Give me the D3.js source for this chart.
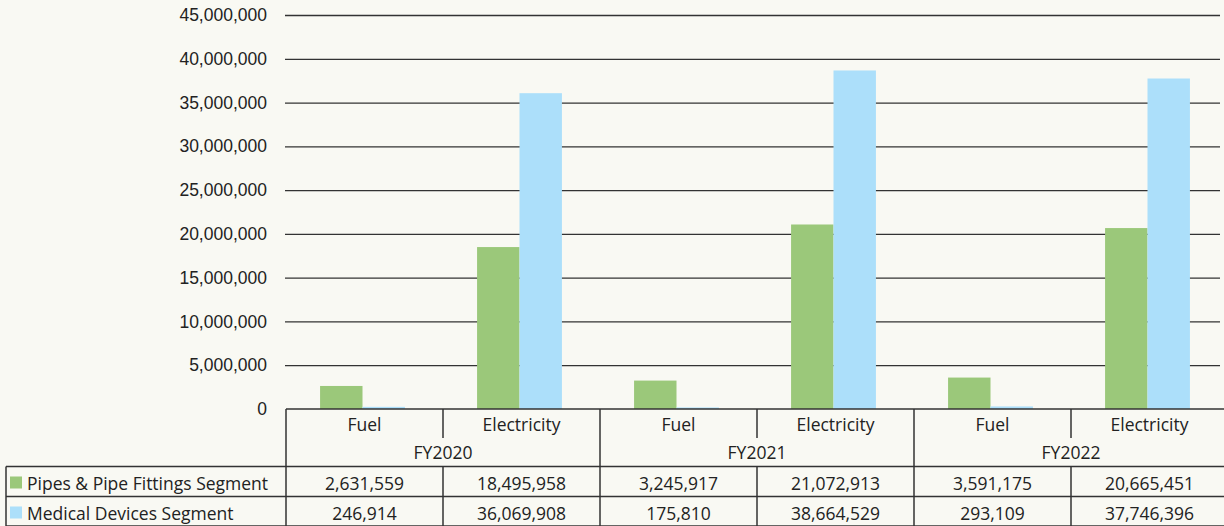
<!DOCTYPE html>
<html>
<head>
<meta charset="utf-8">
<script src="https://cdn.jsdelivr.net/npm/d3@7"></script>
<style>
  body { margin: 0; background: #f9f9f3; overflow: hidden; }
  svg { display: block; font-family: "Open Sans", Lato, sans-serif; }
  .grid line { stroke: #333; stroke-width: 1.3; }
  .grid text { fill: #222; font-size: 17.5px; }
  .tbl line { stroke: #333; stroke-width: 1.5; }
  .tbl text { fill: #222; font-size: 17.5px; }
</style>
</head>
<body>
<div id="chart-area"></div>
<script>

// Data
var years = ["FY2020", "FY2021", "FY2022"];
var types = ["Fuel", "Electricity"];
var seriesNames = ["Pipes & Pipe Fittings Segment", "Medical Devices Segment"];
var pipesValues = [2631559, 18495958, 3245917, 21072913, 3591175, 20665451];
var medicalValues = [246914, 36069908, 175810, 38664529, 293109, 37746396];
var yTickValues = [0, 5000000, 10000000, 15000000, 20000000, 25000000, 30000000, 35000000, 40000000, 45000000];

var colors = ["#9bc87a", "#acdffa"];

// Layout
var W = 1224, H = 526;
var plotLeft = 286, plotTop = 15, plotBottom = 409;
var catWidth = 157;

var svg = d3.select("#chart-area")
    .append("svg")
        .attr("width", W)
        .attr("height", H);

// Build categories (year + type)
var categories = [];
years.forEach(function(yr, i){
    types.forEach(function(t, j){
        categories.push({ key: yr + "|" + t, year: yr, type: t, idx: i * 2 + j });
    });
});

// X Scales
var x0 = d3.scaleBand()
    .domain(categories.map(function(d){ return d.key; }))
    .range([plotLeft, plotLeft + catWidth * categories.length])
    .padding(0);

var x1 = d3.scaleBand()
    .domain(seriesNames)
    .range([0, x0.bandwidth()])
    .paddingInner(0)
    .paddingOuter(0.85);

// Y Scale
var y = d3.scaleLinear()
    .domain([0, 45000000])
    .range([plotBottom, plotTop]);

// Y gridlines + labels
var yAxisCall = d3.axisLeft(y)
    .tickValues(yTickValues)
    .tickSize(-(1221 - plotLeft))
    .tickPadding(18)
    .tickFormat(d3.format(","));
var yAxis = svg.append("g")
    .attr("class", "grid")
    .attr("transform", "translate(" + (plotLeft - 1) + ",0)")
    .call(yAxisCall);
yAxis.select(".domain").remove();
yAxis.selectAll(".tick").filter(function(d){ return d === 0; }).select("line").remove();

// Bars
var allSeries = [pipesValues, medicalValues];
allSeries.forEach(function(values, s){
    svg.append("g")
        .selectAll("rect")
        .data(categories)
        .enter()
        .append("rect")
            .attr("x", function(d){ return x0(d.key) + x1(seriesNames[s]) - 2; })
            .attr("y", function(d){ return y(values[d.idx]); })
            .attr("width", x1.bandwidth())
            .attr("height", function(d){ return y(0) - y(values[d.idx]); })
            .attr("fill", colors[s]);
});

// Table under the chart
var tbl = svg.append("g").attr("class", "tbl");
var row1 = plotBottom, row2 = 438, row3 = 466.5, row4 = 496.5, row5 = 526;
var right = x0.range()[1];
var fmt = d3.format(",");

function hLine(x1_, x2_, yy){
    tbl.append("line").attr("x1", x1_).attr("x2", x2_).attr("y1", yy).attr("y2", yy);
}
function vLine(xx, y1_, y2_){
    tbl.append("line").attr("x1", xx).attr("x2", xx).attr("y1", y1_).attr("y2", y2_);
}

// horizontal lines
hLine(plotLeft, right, row1);
hLine(6, right, row3);
hLine(6, right, row4);
hLine(6, right, row5);

// vertical lines
vLine(6, row3, row5);
categories.forEach(function(d){
    var xx = x0(d.key);
    if (d.type === types[0]) {
        vLine(xx, row1, row5);
    } else {
        vLine(xx, row1, row2);
        vLine(xx, row3, row5);
    }
});
vLine(right, row1, row5);

// category labels
tbl.selectAll(".cat")
    .data(categories)
    .enter()
    .append("text")
        .attr("x", function(d){ return x0(d.key) + x0.bandwidth() / 2; })
        .attr("y", 431)
        .attr("text-anchor", "middle")
        .text(function(d){ return d.type; });

// year labels
tbl.selectAll(".yr")
    .data(years)
    .enter()
    .append("text")
        .attr("x", function(d){ return x0(d + "|" + types[0]) + x0.bandwidth(); })
        .attr("y", 459)
        .attr("text-anchor", "middle")
        .text(function(d){ return d; });

// legend rows + values
var rowY = [row3, row4];
allSeries.forEach(function(values, s){
    var ry = rowY[s];
    tbl.append("rect")
        .attr("x", 10)
        .attr("y", ry + 10)
        .attr("width", 12)
        .attr("height", 12)
        .attr("fill", colors[s]);
    tbl.append("text")
        .attr("x", 27)
        .attr("y", ry + 23)
        .text(seriesNames[s]);

    tbl.selectAll(".val" + s)
        .data(categories)
        .enter()
        .append("text")
            .attr("x", function(d){ return x0(d.key) + x0.bandwidth() / 2; })
            .attr("y", ry + 23)
            .attr("text-anchor", "middle")
            .text(function(d){ return fmt(values[d.idx]); });
});

</script>
</body>
</html>
